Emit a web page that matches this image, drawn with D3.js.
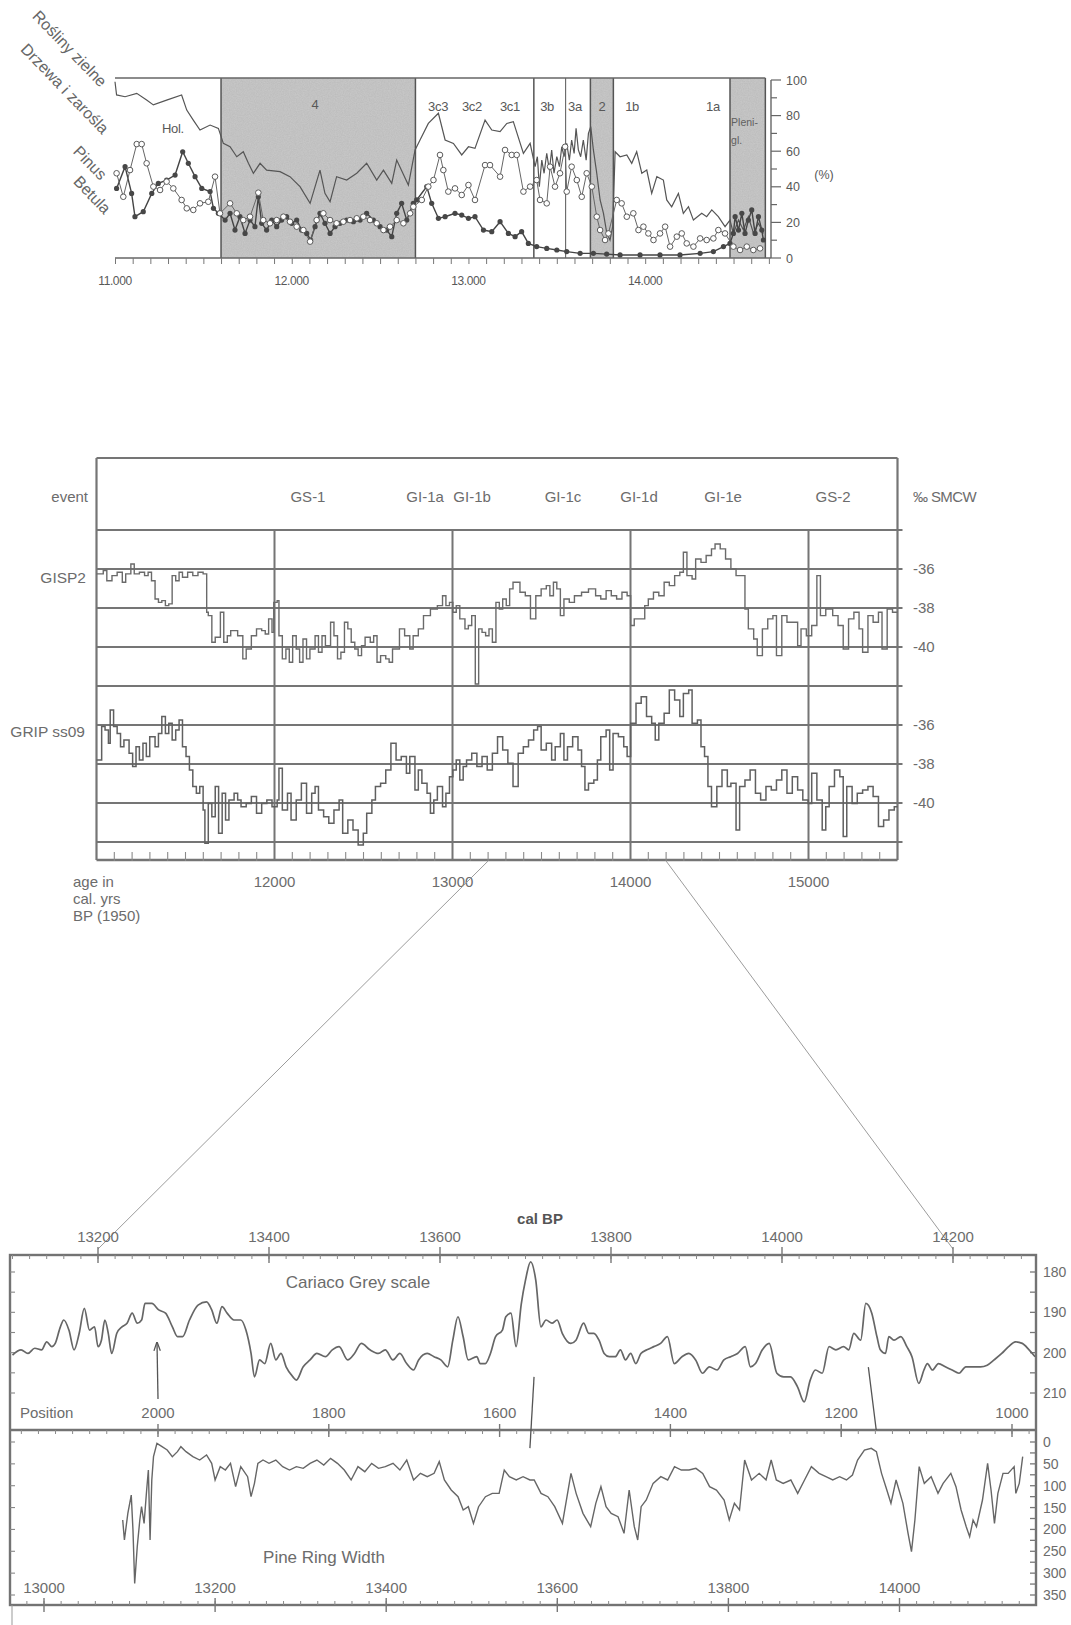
<!DOCTYPE html>
<html>
<head>
<meta charset="utf-8">
<script src="https://cdn.jsdelivr.net/npm/d3@7"></script>
<style>
  body { margin: 0; background: #fff; }
  svg { display: block; }
  text { font-family: "Liberation Sans", Arial, sans-serif; }
</style>
</head>
<body>
<svg id="chart" width="1071" height="1625"></svg>
<script>
// ===================== DATA =====================

// --- Pollen diagram (age, %) ---
const pollenZoneBounds = [11600, 12700, 13370, 13550, 13690, 13820, 14480, 14680];
const shadedZones = [[11600, 12700], [13690, 13820], [14480, 14680]];
const zoneLabels = [
  { t: "Hol.", at: 11328, v: 73 },
  { t: "4", at: 12132, v: 86 },
  { t: "3c3", at: 12828, v: 85 },
  { t: "3c2", at: 13020, v: 85 },
  { t: "3c1", at: 13235, v: 85 },
  { t: "3b", at: 13445, v: 85 },
  { t: "3a", at: 13603, v: 85 },
  { t: "2", at: 13756, v: 85 },
  { t: "1b", at: 13926, v: 85 },
  { t: "1a", at: 14384, v: 85 }
];
const pollenTicks = [0, 20, 40, 60, 80, 100];
const pollenAgeLabels = [11000, 12000, 13000, 14000];
const taxaNames = ["Rośliny zielne", "Drzewa i zarośla", "Pinus", "Betula"];

const treesShrubs = [[11000,99],[11009,91.6],[11057,90.6],[11123,92.5],[11179,88.7],[11217,86],[11292,88.7],[11377,91.6],[11406,83.1],[11443,77.5],[11481,71.9],[11538,74.7],[11585,72.8],[11613,64.4],[11651,62.5],[11689,56.9],[11726,59.7],[11755,53.2],[11783,47.6],[11821,53.2],[11858,49.4],[11934,48.5],[11990,45.7],[12047,40.1],[12104,30.7],[12160,49.4],[12188,36.3],[12217,31.6],[12254,45.7],[12311,43.8],[12368,47.6],[12424,53.2],[12481,43.8],[12519,49.4],[12566,41.9],[12594,55],[12660,41],[12698,60.7],[12726,66.3],[12773,75.6],[12830,81.3],[12868,66.3],[12915,64.4],[12962,57.9],[13000,62.5],[13037,61.6],[13094,77.5],[13132,71.9],[13179,71],[13217,75.6],[13254,76.6],[13311,58.8],[13349,64.4],[13377,51.3],[13390,56.9],[13401,40.1],[13415,55],[13428,47.6],[13443,58.8],[13458,49.4],[13471,60.7],[13484,47.6],[13500,56.9],[13515,51.3],[13528,62.5],[13541,56.9],[13556,64.4],[13571,55],[13584,66.3],[13598,58.8],[13609,72.8],[13622,60.7],[13635,56.9],[13650,66.3],[13666,55],[13679,70],[13692,73.8],[13707,60.7],[13726,47.6],[13745,32.6],[13764,25.1],[13783,13.8],[13801,10.1],[13816,17.6],[13830,59.7],[13858,56.9],[13896,57.9],[13924,53.2],[13952,59.7],[13981,47.6],[14009,49.4],[14037,36.3],[14066,45.7],[14103,43.8],[14122,32.6],[14150,28.8],[14188,36.3],[14216,25.1],[14245,28.8],[14273,21.3],[14320,25.1],[14348,23.2],[14377,27],[14414,23.2],[14452,17.6],[14480,21.3],[14499,13.8],[14528,21.3],[14556,15.7],[14584,23.2],[14613,13.8],[14641,19.5],[14669,13.8]];

const betula = [[11009,47.6],[11047,34.4],[11085,49.4],[11123,64],[11151,64],[11179,53.2],[11217,40.1],[11255,38.2],[11292,42.9],[11330,39.1],[11377,32.6],[11406,27.9],[11443,27],[11481,30.7],[11528,31.6],[11566,45.7],[11594,25.1],[11651,30.7],[11689,25.1],[11726,21.3],[11764,23.2],[11811,36.7],[11839,21.3],[11877,19.5],[11915,21.3],[11953,23.2],[11990,20.4],[12028,17.6],[12066,15.7],[12104,9.2],[12141,21.3],[12179,25.1],[12217,21.3],[12254,19.5],[12292,20.4],[12330,21.3],[12368,22.3],[12405,23.2],[12443,21.3],[12481,19.5],[12519,15.7],[12556,17.6],[12594,21.3],[12632,19.5],[12670,25.1],[12688,28.8],[12736,32.6],[12773,40.1],[12802,43.8],[12839,57.9],[12858,49.4],[12886,37.3],[12924,39.1],[12962,35.4],[13000,41],[13037,32.6],[13094,52.2],[13122,52.2],[13179,45.7],[13207,60.7],[13245,57.9],[13273,57.9],[13311,37.3],[13349,40.1],[13386,43.8],[13405,32.6],[13443,30.7],[13462,51.3],[13490,40.1],[13518,47.6],[13547,62.5],[13556,37.3],[13584,51.3],[13613,43.8],[13641,34.4],[13669,47.6],[13698,40.1],[13726,23.2],[13745,15.7],[13773,10.1],[13792,13.8],[13839,32.6],[13867,30.7],[13896,23.2],[13933,25.1],[13962,15.7],[13990,17.6],[14018,13.8],[14047,10.1],[14084,13.8],[14113,17.6],[14141,6.4],[14179,12],[14207,13.8],[14235,8.2],[14273,6.4],[14311,11],[14348,10.1],[14386,11],[14414,15.7],[14452,13.8],[14499,6.4],[14537,4.5],[14575,6.4],[14612,4.5],[14650,5.4]];

const pinus = [[11009,39.1],[11057,51.3],[11094,36.3],[11113,23.2],[11160,26],[11208,36.3],[11245,41.9],[11292,43.8],[11340,46.6],[11383,59.7],[11415,53.2],[11453,45.7],[11491,39.1],[11538,37.3],[11557,27.9],[11585,25.1],[11623,21.3],[11651,25.1],[11679,15.7],[11707,23.2],[11736,13.8],[11764,21.3],[11792,17.6],[11811,34.4],[11830,19.5],[11858,15.7],[11887,21.3],[11915,17.6],[11943,21.3],[11971,23.2],[12000,19.5],[12028,21.3],[12056,15.7],[12085,13.8],[12107,10.1],[12132,17.6],[12160,25.1],[12188,19.5],[12217,13.8],[12245,17.6],[12273,19.5],[12311,21.3],[12349,20.4],[12387,21.3],[12424,25.1],[12462,21.3],[12500,17.6],[12537,15.7],[12566,12],[12594,25.1],[12622,30.7],[12651,21.3],[12688,30.7],[12707,32.6],[12764,40.1],[12792,30.7],[12830,22.3],[12868,23.2],[12924,25.1],[12962,24.1],[13000,22.3],[13037,23.2],[13085,15.7],[13132,14.8],[13179,20.4],[13226,13.8],[13264,12],[13301,14.8],[13339,8.2],[13386,6.4],[13443,5.4],[13500,4.5],[13556,3.6],[13632,2.6],[13707,2.6],[13782,2.2],[13858,1.7],[13971,1.7],[14084,1.7],[14197,1.7],[14311,2.6],[14386,3.6],[14443,6.4],[14480,8.2],[14499,13.8],[14509,23.2],[14528,15.7],[14547,25.1],[14565,13.8],[14584,21.3],[14603,27],[14622,13.8],[14641,23.2],[14660,15.7],[14669,10.1]];

// --- Greenland ice cores (age, ‰ SMOW) ---
const iceEvents = [
  { t: "GS-1", at: 12188 }, { t: "GI-1a", at: 12846 }, { t: "GI-1b", at: 13110 },
  { t: "GI-1c", at: 13621 }, { t: "GI-1d", at: 14048 }, { t: "GI-1e", at: 14520 },
  { t: "GS-2", at: 15138 }
];
const iceAgeLabels = [12000, 13000, 14000, 15000];
const isoLabels = [-36, -38, -40];

const gisp2 = [[11000,-36.25],[11019,-36.25],[11038,-36.08],[11058,-36.6],[11087,-36.34],[11116,-36.17],[11145,-36.68],[11164,-36.25],[11193,-35.74],[11212,-36.25],[11241,-36.17],[11270,-36.34],[11290,-36.17],[11309,-36.6],[11329,-37.54],[11348,-37.71],[11367,-37.62],[11387,-37.88],[11406,-37.79],[11425,-36.34],[11445,-36.6],[11464,-36.17],[11483,-36.42],[11512,-36.17],[11541,-36.34],[11570,-36.17],[11599,-36.25],[11619,-38.22],[11628,-38.39],[11648,-39.76],[11667,-39.5],[11696,-38.22],[11715,-39.76],[11735,-39.42],[11754,-39.16],[11793,-39.42],[11822,-40.61],[11841,-40.1],[11870,-39.42],[11899,-39.07],[11928,-39.16],[11948,-39.33],[11967,-38.56],[11986,-39.25],[11996,-37.71],[12015,-37.62],[12025,-39.42],[12044,-40.61],[12064,-40.1],[12083,-40.78],[12102,-39.42],[12122,-40.1],[12141,-40.78],[12160,-39.59],[12180,-40.61],[12199,-40.1],[12228,-39.42],[12247,-40.27],[12267,-39.42],[12286,-39.93],[12315,-38.73],[12334,-39.42],[12354,-40.61],[12373,-40.27],[12393,-38.73],[12412,-39.07],[12431,-39.76],[12451,-40.1],[12470,-40.44],[12489,-39.93],[12509,-39.5],[12538,-39.76],[12557,-39.42],[12576,-40.78],[12596,-40.44],[12625,-40.61],[12644,-40.78],[12663,-40.1],[12702,-39.07],[12731,-39.42],[12760,-40.1],[12779,-39.42],[12808,-39.07],[12837,-38.39],[12876,-38.05],[12915,-37.88],[12944,-37.37],[12963,-37.88],[12983,-37.71],[13002,-38.22],[13021,-37.88],[13041,-38.56],[13070,-39.07],[13089,-38.9],[13108,-38.39],[13128,-41.9],[13147,-39.07],[13166,-39.25],[13186,-39.42],[13205,-39.07],[13224,-39.76],[13244,-37.71],[13263,-38.05],[13282,-37.54],[13302,-37.88],[13321,-37.02],[13340,-36.68],[13379,-37.19],[13409,-37.37],[13438,-38.56],[13468,-37.37],[13498,-37.02],[13527,-36.85],[13547,-37.37],[13567,-36.68],[13586,-37.02],[13606,-38.39],[13626,-37.54],[13656,-37.71],[13685,-37.37],[13725,-37.19],[13764,-37.02],[13804,-37.37],[13833,-37.54],[13863,-37.11],[13892,-37.37],[13922,-37.54],[13952,-37.19],[13981,-37.37],[14001,-38.9],[14021,-38.56],[14050,-38.56],[14080,-37.88],[14100,-37.54],[14129,-37.19],[14159,-37.37],[14189,-36.68],[14218,-36.85],[14248,-36.34],[14277,-36.17],[14297,-35.14],[14317,-36.34],[14346,-36.51],[14366,-35.49],[14396,-35.66],[14425,-35.31],[14455,-34.97],[14475,-34.72],[14504,-34.97],[14534,-35.49],[14564,-36],[14593,-36.34],[14623,-36.34],[14643,-38.05],[14662,-39.07],[14692,-39.59],[14712,-40.44],[14741,-39.07],[14771,-38.56],[14800,-38.39],[14820,-40.44],[14850,-38.39],[14879,-38.73],[14909,-38.73],[14939,-39.93],[14958,-39.07],[14988,-39.42],[15018,-38.9],[15047,-36.34],[15067,-38.39],[15097,-38.05],[15136,-38.39],[15166,-38.9],[15195,-40.1],[15225,-38.56],[15255,-38.22],[15284,-39.07],[15304,-40.27],[15334,-38.39],[15363,-38.73],[15393,-38.22],[15413,-40.1],[15442,-38.05],[15472,-38.22],[15500,-38.22]];

const gripSs09 = [[11000,-37.79],[11019,-37.79],[11029,-36.08],[11048,-36.26],[11067,-36.94],[11077,-35.23],[11096,-36.08],[11116,-36.43],[11135,-37.11],[11154,-36.77],[11183,-37.45],[11203,-38.13],[11222,-37.11],[11241,-37.79],[11261,-36.94],[11280,-37.62],[11299,-36.6],[11329,-37.11],[11348,-36.43],[11367,-35.57],[11387,-36.43],[11406,-35.91],[11425,-36.77],[11445,-36.26],[11464,-35.74],[11483,-37.11],[11503,-37.62],[11522,-38.31],[11541,-39.16],[11561,-39.5],[11580,-39.16],[11599,-40.36],[11609,-42.07],[11628,-40.02],[11648,-40.7],[11667,-39.16],[11686,-41.55],[11706,-39.5],[11725,-40.87],[11744,-39.84],[11773,-39.5],[11793,-39.84],[11812,-40.19],[11841,-40.02],[11870,-39.67],[11899,-40.53],[11928,-40.02],[11957,-39.84],[11986,-40.19],[12015,-39.84],[12025,-38.22],[12044,-40.36],[12073,-39.5],[12093,-40.87],[12122,-39.84],[12151,-38.99],[12180,-40.53],[12209,-39.5],[12228,-39.16],[12247,-40.36],[12276,-40.7],[12305,-41.04],[12334,-40.36],[12363,-39.84],[12383,-41.55],[12412,-40.87],[12441,-41.38],[12470,-42.15],[12499,-41.55],[12518,-40.53],[12547,-39.84],[12567,-39.16],[12596,-38.99],[12625,-38.31],[12654,-36.94],[12683,-37.79],[12712,-37.62],[12741,-38.48],[12760,-37.62],[12789,-39.33],[12808,-38.31],[12828,-38.99],[12857,-39.5],[12876,-40.53],[12895,-39.84],[12915,-39.16],[12944,-40.19],[12963,-39.5],[12983,-38.65],[13002,-38.31],[13021,-37.79],[13041,-38.82],[13060,-38.13],[13079,-37.79],[13108,-37.45],[13137,-38.13],[13166,-37.62],[13195,-38.31],[13224,-37.45],[13253,-36.6],[13282,-37.28],[13311,-37.96],[13340,-39.16],[13369,-37.45],[13398,-37.11],[13427,-36.77],[13456,-36.26],[13478,-36.08],[13498,-37.28],[13527,-36.94],[13557,-37.79],[13577,-37.11],[13606,-36.43],[13626,-37.79],[13646,-37.11],[13675,-36.6],[13705,-37.28],[13725,-38.13],[13744,-39.33],[13764,-38.99],[13794,-38.82],[13814,-37.79],[13833,-36.6],[13863,-36.26],[13883,-38.31],[13902,-36.43],[13932,-36.6],[13962,-37.11],[13981,-37.62],[14001,-35.91],[14031,-34.89],[14060,-34.55],[14090,-35.57],[14119,-35.91],[14139,-36.77],[14159,-35.91],[14189,-35.4],[14218,-34.21],[14248,-34.72],[14277,-35.57],[14297,-34.38],[14327,-34.21],[14346,-35.91],[14376,-35.74],[14396,-37.11],[14416,-37.62],[14435,-39.16],[14455,-40.19],[14485,-39.16],[14514,-38.31],[14544,-39.16],[14564,-38.99],[14593,-41.38],[14613,-39.16],[14643,-38.82],[14672,-38.31],[14702,-39.5],[14731,-39.84],[14761,-39.16],[14791,-39.33],[14820,-38.82],[14850,-38.31],[14879,-39.5],[14909,-38.65],[14939,-39.33],[14968,-39.84],[14998,-40.02],[15018,-38.48],[15047,-39.84],[15077,-41.38],[15097,-40.19],[15116,-39.16],[15146,-38.31],[15176,-38.65],[15195,-41.72],[15215,-39.16],[15245,-40.02],[15274,-39.5],[15304,-39.33],[15334,-39.16],[15363,-39.67],[15393,-41.21],[15422,-40.87],[15452,-40.36],[15482,-40.19],[15500,-40.19]];

// --- Cariaco grey scale (cal BP, grey value) ---
const cariacoGrey = [[13100,200.6],[13110,199.3],[13118,200.2],[13126,198.9],[13134,199.3],[13140,197.3],[13146,198.5],[13150,197.7],[13156,193.6],[13160,191.9],[13166,194.4],[13172,199.3],[13178,195.2],[13184,189],[13190,194.4],[13196,193.6],[13200,198.5],[13204,196.9],[13208,191.9],[13212,195.2],[13216,200.2],[13222,195.2],[13228,193.6],[13234,192.7],[13240,190.2],[13246,192.7],[13251,191.9],[13255,187.8],[13263,187.8],[13271,189.4],[13279,190.2],[13287,193.6],[13293,196],[13299,196],[13307,191.9],[13317,188.2],[13327,187.4],[13333,189.4],[13339,192.7],[13345,188.6],[13351,190.2],[13359,191.9],[13367,191.9],[13373,194.4],[13379,200.2],[13383,206],[13389,201.8],[13395,202.7],[13402,197.7],[13408,201.8],[13414,200.2],[13420,203.5],[13428,206],[13432,206.8],[13440,203.5],[13448,201.8],[13456,200.2],[13466,201],[13474,199.3],[13482,198.5],[13492,201.8],[13500,200.2],[13508,197.7],[13518,199.3],[13528,200.2],[13536,199.3],[13545,201.8],[13553,200.2],[13561,202.7],[13569,204.3],[13575,201.8],[13585,200.2],[13593,201],[13601,201.8],[13609,203.5],[13615,196.9],[13621,191.1],[13627,196],[13633,201.8],[13643,201],[13647,202.7],[13653,202.7],[13659,200.2],[13665,196],[13673,194.4],[13677,191.1],[13683,190.2],[13689,198.5],[13695,188],[13700,182],[13706,177.5],[13712,182],[13718,193.6],[13724,191.9],[13731,192.7],[13737,191.9],[13743,195.2],[13753,197.7],[13759,196.9],[13768,192.7],[13774,195.2],[13780,195.2],[13786,196.9],[13792,200.2],[13798,201],[13805,201],[13811,199.3],[13817,201.8],[13823,200.2],[13829,202.7],[13835,200.2],[13842,199.3],[13850,198.5],[13858,197.7],[13866,196],[13874,202.7],[13883,201],[13891,200.2],[13899,201.8],[13907,205.1],[13915,203.5],[13924,204.3],[13932,201.8],[13940,201],[13948,200.2],[13957,198.5],[13963,203.5],[13969,202.7],[13977,199.3],[13985,197.7],[13994,205.1],[14002,206],[14010,206],[14018,208.4],[14026,212.2],[14033,206.8],[14039,204.3],[14047,205.1],[14055,198.5],[14063,199.3],[14072,198.5],[14078,199.3],[14084,195.2],[14092,196.9],[14098,187.8],[14105,190.2],[14111,196],[14115,199.3],[14121,200.2],[14125,196],[14131,196.9],[14139,196],[14146,198.5],[14152,201],[14160,207.6],[14166,204.3],[14170,202.7],[14176,204.3],[14183,202.7],[14191,203.5],[14199,204.3],[14207,205.1],[14215,203.5],[14224,203.5],[14232,203.5],[14240,203.1],[14248,201.8],[14257,200.2],[14265,198.5],[14273,197.3],[14281,197.7],[14289,199.3],[14296,201]];

// --- Pine ring width (cal BP, width) ---
const pineRingWidth = [[13092,178.5],[13094,224.2],[13098,163.2],[13102,121.3],[13104,201.4],[13106,323.4],[13109,239.5],[13112,178.5],[13114,148],[13117,186.1],[13120,109.8],[13122,64.1],[13124,224.2],[13126,86.9],[13128,33.5],[13132,3],[13138,10.7],[13144,18.3],[13150,33.5],[13156,22.1],[13160,10.7],[13166,22.1],[13174,33.5],[13182,41.2],[13190,29.7],[13196,48.8],[13200,86.9],[13206,56.4],[13212,64.1],[13218,48.8],[13224,102.2],[13230,56.4],[13238,79.3],[13242,125.1],[13246,94.6],[13250,48.8],[13256,41.2],[13263,48.8],[13271,41.2],[13279,56.4],[13287,64.1],[13295,56.4],[13303,60.2],[13311,48.8],[13319,41.2],[13327,52.6],[13335,37.4],[13343,48.8],[13351,64.1],[13359,86.9],[13367,56.4],[13375,67.9],[13383,48.8],[13391,60.2],[13399,56.4],[13408,48.8],[13416,64.1],[13424,41.2],[13432,86.9],[13440,71.7],[13448,79.3],[13456,71.7],[13462,45],[13468,86.9],[13476,109.8],[13484,125.1],[13490,155.6],[13496,148],[13502,186.1],[13508,148],[13516,125.1],[13524,117.5],[13532,117.5],[13538,64.1],[13544,79.3],[13552,86.9],[13560,79.3],[13568,86.9],[13573,86.9],[13581,117.5],[13589,125.1],[13597,148],[13606,186.1],[13612,117.5],[13616,71.7],[13622,117.5],[13630,163.2],[13639,193.7],[13645,140.3],[13651,102.2],[13657,148],[13663,163.2],[13671,170.8],[13678,209],[13684,109.8],[13690,193.7],[13694,224.2],[13698,148],[13704,132.7],[13712,94.6],[13721,79.3],[13729,86.9],[13737,56.4],[13745,64.1],[13754,64.1],[13762,60.2],[13770,71.7],[13778,102.2],[13786,109.8],[13795,132.7],[13801,178.5],[13807,140.3],[13813,155.6],[13819,41.2],[13827,86.9],[13836,71.7],[13844,86.9],[13850,41.2],[13856,86.9],[13864,94.6],[13873,86.9],[13881,117.5],[13889,86.9],[13897,56.4],[13906,71.7],[13914,79.3],[13922,86.9],[13930,79.3],[13938,86.9],[13945,75.5],[13951,41.2],[13959,18.3],[13967,14.5],[13973,22.1],[13979,71.7],[13984,102.2],[13990,140.3],[13996,86.9],[14004,140.3],[14010,209],[14014,250.9],[14018,178.5],[14023,56.4],[14029,94.6],[14037,79.3],[14045,117.5],[14051,94.6],[14060,71.7],[14066,102.2],[14072,155.6],[14078,193.7],[14082,216.6],[14086,178.5],[14090,193.7],[14097,132.7],[14103,48.8],[14107,109.8],[14111,186.1],[14115,117.5],[14121,71.7],[14127,71.7],[14134,56.4],[14136,117.5],[14140,94.6],[14144,33.5]];

const calBPLabels = [13200, 13400, 13600, 13800, 14000, 14200];
const positionLabels = [2000, 1800, 1600, 1400, 1200, 1000];
const ringAgeLabels = [13000, 13200, 13400, 13600, 13800, 14000];
const greyLabels = [180, 190, 200, 210];
const ringLabels = [0, 50, 100, 150, 200, 250, 300, 350];

// Tie points linking the grey-scale record to the ring-width series
const tieArrow = { pos: 2000, greyFrom: 211.5, greyTo: 197.5 };
const tieMid = { calBP: 13710, grey: 206, ringAge: 13568, ring: 14 };
const tieRight = { calBP: 14101, grey: 203.6, pos: 1159 };

// ===================== DRAWING =====================
const svg = d3.select("#chart");
const ink = "#585858";
const soft = "#6c6c6c";

const defs = svg.append("defs");
const grain = defs.append("filter").attr("id", "grain").attr("x", 0).attr("y", 0).attr("width", 1).attr("height", 1);
grain.append("feTurbulence").attr("type", "fractalNoise").attr("baseFrequency", 0.85).attr("numOctaves", 2).attr("seed", 7).attr("result", "n");
grain.append("feColorMatrix").attr("in", "n").attr("type", "matrix")
  .attr("values", "0 0 0 0 0.42  0 0 0 0 0.42  0 0 0 0 0.42  0 0 0 0.55 -0.05").attr("result", "g");
grain.append("feComposite").attr("in", "g").attr("in2", "SourceGraphic").attr("operator", "in");
defs.append("marker").attr("id", "arrow").attr("viewBox", "0 0 10 10").attr("refX", 9).attr("refY", 5)
  .attr("markerWidth", 7).attr("markerHeight", 7).attr("orient", "auto-start-reverse")
  .append("path").attr("d", "M0,1.5 L10,5 L0,8.5").attr("fill", "none").attr("stroke", "#555").attr("stroke-width", 1.4);

function line(g, x1, y1, x2, y2, stroke, w) {
  return g.append("line").attr("x1", x1).attr("y1", y1).attr("x2", x2).attr("y2", y2)
    .attr("stroke", stroke).attr("stroke-width", w);
}
function label(g, x, y, t, size, anchor, fill) {
  return g.append("text").attr("x", x).attr("y", y).attr("font-size", size)
    .attr("text-anchor", anchor || "middle").attr("fill", fill || ink).text(t);
}

// ---------- Pollen diagram ----------
{
  const g = svg.append("g");
  const x = d3.scaleLinear().domain([11000, 14712]).range([115, 771]);
  const y = d3.scaleLinear().domain([0, 100]).range([258, 80]);
  const topY = y(100) - 2;

  g.selectAll("rect.zone").data(shadedZones).join("rect").attr("class", "zone")
    .attr("x", d => x(d[0])).attr("width", d => x(d[1]) - x(d[0]))
    .attr("y", topY).attr("height", y(0) - topY).attr("fill", "#c8c8c8");
  g.selectAll("rect.grain").data(shadedZones).join("rect").attr("class", "grain")
    .attr("x", d => x(d[0])).attr("width", d => x(d[1]) - x(d[0]))
    .attr("y", topY).attr("height", y(0) - topY).attr("fill", "#000").attr("filter", "url(#grain)");

  pollenZoneBounds.forEach(b => line(g, x(b), topY, x(b), y(0), "#555", b === 13550 ? 1 : 1.5));
  line(g, x(11000), topY, x(14680), topY, "#666", 1.6);
  line(g, x(11000), y(0), x(14712), y(0), "#666", 1.6);

  // age axis
  const ax = g.append("g").attr("transform", `translate(0,${y(0)})`)
    .call(d3.axisBottom(x).tickValues(d3.range(11000, 14701, 100)).tickSize(6).tickFormat(""));
  ax.select(".domain").remove();
  ax.selectAll(".tick line").attr("stroke", "#777").attr("stroke-width", 1);
  pollenAgeLabels.forEach(a => label(g, x(a), 285, `${a / 1000}.000`, 12, "middle", ink)
    .attr("letter-spacing", -0.4));

  // percent axis
  line(g, x(14712), y(0), x(14712), y(100), "#666", 1.4);
  d3.range(0, 101, 10).forEach(v => line(g, x(14712), y(v), x(14712) + (v % 20 === 0 ? 10 : 6), y(v), "#666", 1.2));
  pollenTicks.forEach(v => label(g, x(14712) + 15, y(v) + 4.5, v, 12.5, "start"));
  label(g, 824, 179, "(%)", 12.5);

  // series
  const ln = d3.line().x(d => x(d[0])).y(d => y(d[1]));
  g.append("path").datum(treesShrubs).attr("d", ln).attr("fill", "none").attr("stroke", "#555").attr("stroke-width", 1.2);
  g.append("path").datum(pinus).attr("d", ln).attr("fill", "none").attr("stroke", "#444").attr("stroke-width", 1.4);
  g.append("path").datum(betula).attr("d", ln).attr("fill", "none").attr("stroke", "#666").attr("stroke-width", 1);
  g.selectAll("circle.pin").data(pinus).join("circle").attr("class", "pin")
    .attr("cx", d => x(d[0])).attr("cy", d => y(d[1])).attr("r", 2.6).attr("fill", "#474747");
  g.selectAll("circle.bet").data(betula).join("circle").attr("class", "bet")
    .attr("cx", d => x(d[0])).attr("cy", d => y(d[1])).attr("r", 2.8)
    .attr("fill", "#fff").attr("stroke", "#5a5a5a").attr("stroke-width", 1);

  // zone labels
  zoneLabels.forEach(z => label(g, x(z.at), y(z.v) + 4.5, z.t, 13).attr("letter-spacing", -0.3));
  label(g, x(14486), y(74), "Pleni-", 10.5, "start", "#606060");
  label(g, x(14486), y(64), "gl.", 10.5, "start", "#606060");

  // taxon names, rotated
  const ends = [[100, 88], [102, 135], [100, 181], [104, 215]];
  taxaNames.forEach((t, i) => g.append("text")
    .attr("transform", `translate(${ends[i][0]},${ends[i][1]}) rotate(46)`)
    .attr("text-anchor", "end").attr("font-size", 16).attr("fill", "#666").text(t));
}

// ---------- Ice-core isotope records ----------
const xM = d3.scaleLinear().domain([11000, 15500]).range([96.5, 897.5]);
{
  const g = svg.append("g");
  const yG = d3.scaleLinear().domain([-34, -42]).range([530, 686]);
  const yR = d3.scaleLinear().domain([-34, -42]).range([686, 842]);
  const frame = "#757575";
  const axisY = 860, boxTop = 458;

  line(g, xM(11000), boxTop, xM(15500), boxTop, frame, 2);
  [-34, -36, -38, -40].forEach(v => line(g, xM(11000), yG(v), xM(15500) + 5, yG(v), frame, 2));
  [-34, -36, -38, -40, -42].forEach(v => line(g, xM(11000), yR(v), xM(15500) + 5, yR(v), frame, 2));
  iceAgeLabels.forEach(a => line(g, xM(a), yG(-34), xM(a), axisY, frame, 2));
  line(g, xM(11000), boxTop, xM(11000), axisY, frame, 2.2);
  line(g, xM(15500), boxTop, xM(15500), axisY, frame, 2.2);
  line(g, xM(11000), axisY, xM(15500), axisY, frame, 2.6);
  d3.range(11100, 15500, 100).filter(a => a % 1000 !== 0)
    .forEach(a => line(g, xM(a), axisY - 8, xM(a), axisY + 1, "#8a8a8a", 1.1));

  const step = (yy) => d3.line().curve(d3.curveStepAfter).x(d => xM(d[0])).y(d => yy(d[1]));
  g.append("path").datum(gisp2).attr("d", step(yG)).attr("fill", "none").attr("stroke", "#6a6a6a").attr("stroke-width", 1.4);
  g.append("path").datum(gripSs09).attr("d", step(yR)).attr("fill", "none").attr("stroke", "#606060").attr("stroke-width", 1.5);

  label(g, 88, 502, "event", 15, "end", soft);
  iceEvents.forEach(e => label(g, xM(e.at), 502, e.t, 15, "middle", soft));
  label(g, 913, 502, "‰ SMCW", 15, "start", soft).attr("letter-spacing", -0.6);
  label(g, 86, 583, "GISP2", 15.5, "end", soft);
  label(g, 85, 737, "GRIP ss09", 15.5, "end", soft);
  isoLabels.forEach(v => {
    label(g, 913, yG(v) + 5, v, 15, "start", soft);
    label(g, 913, yR(v) + 5, v, 15, "start", soft);
  });
  iceAgeLabels.forEach(a => label(g, xM(a), 887, a, 15, "middle", soft));
  ["age in", "cal. yrs", "BP (1950)"].forEach((t, i) => label(g, 73, 887 + i * 17, t, 15, "start", soft));
}

// ---------- Cariaco grey scale vs. pine ring width ----------
{
  const g = svg.append("g");
  const L = 10, R = 1036, T = 1255, M = 1430, B = 1605;
  const xT = d3.scaleLinear().domain([13200, 14200]).range([98, 953]);
  const xP = d3.scaleLinear().domain([2000, 1000]).range([158, 1012]);
  const xB = d3.scaleLinear().domain([13000, 14000]).range([44, 899.5]);
  const yC = d3.scaleLinear().domain([180, 210]).range([1272, 1393]);
  const yW = d3.scaleLinear().domain([0, 350]).range([1442, 1595]);
  const frame = "#737373";

  // zoom connectors from the ice-core axis
  line(g, xM(13200), 861, xT(13200), 1249, "#9c9c9c", 1);
  line(g, xM(14200), 861, xT(14200), 1249, "#9c9c9c", 1);

  g.append("rect").attr("x", L).attr("y", T).attr("width", R - L).attr("height", B - T)
    .attr("fill", "none").attr("stroke", frame).attr("stroke-width", 2.4);
  line(g, L, M, R, M, frame, 2.4);
  line(g, L + 2, B, L + 2, 1625, "#999", 1);

  // top cal BP axis
  d3.range(13100, 14290, 20).forEach(a => line(g, xT(a), T, xT(a), T + 4, "#8a8a8a", 1));
  calBPLabels.forEach(a => {
    line(g, xT(a), T - 8, xT(a), T + 8, "#777", 1.4);
    label(g, xT(a), 1242, a, 15, "middle", soft);
  });
  label(g, 540, 1224, "cal BP", 15, "middle", "#555").attr("font-weight", "bold");

  // position axis on the divider
  d3.range(2160, 979, -20).forEach(p => line(g, xP(p), M, xP(p), M + 4, "#8a8a8a", 1));
  positionLabels.forEach(p => {
    line(g, xP(p), M - 6, xP(p), M + 7, "#777", 1.4);
    label(g, xP(p), 1418, p, 15, "middle", soft);
  });
  label(g, 20, 1418, "Position", 15, "start", soft);

  // bottom ring-age axis
  d3.range(12980, 14150, 20).forEach(a => line(g, xB(a), B - 4, xB(a), B, "#8a8a8a", 1));
  ringAgeLabels.forEach(a => {
    line(g, xB(a), B - 7, xB(a), B + 7, "#777", 1.4);
    label(g, xB(a), 1593, a, 15, "middle", soft);
  });

  // right / left value axes
  d3.range(180, 211, 5).forEach(v => {
    line(g, R - 6, yC(v), R, yC(v), "#777", 1.3);
    line(g, L, yC(v), L + 5, yC(v), "#888", 1.1);
  });
  greyLabels.forEach(v => label(g, 1043, yC(v) + 5, v, 14, "start", soft));
  d3.range(0, 351, 25).forEach(v => line(g, R - 6, yW(v), R, yW(v), "#777", 1.3));
  d3.range(0, 351, 50).forEach(v => line(g, L, yW(v), L + 5, yW(v), "#888", 1.1));
  ringLabels.forEach(v => label(g, 1043, yW(v) + 5, v, 14, "start", soft));

  // series
  g.append("path").datum(cariacoGrey)
    .attr("d", d3.line().curve(d3.curveMonotoneX).x(d => xT(d[0])).y(d => yC(d[1])))
    .attr("fill", "none").attr("stroke", "#666").attr("stroke-width", 1.7);
  g.append("path").datum(pineRingWidth)
    .attr("d", d3.line().x(d => xB(d[0])).y(d => yW(d[1])))
    .attr("fill", "none").attr("stroke", "#666").attr("stroke-width", 1.4);

  label(g, 358, 1288, "Cariaco Grey scale", 17, "middle", soft);
  label(g, 324, 1563, "Pine Ring Width", 17, "middle", soft);

  // tie lines
  line(g, xP(tieArrow.pos), yC(tieArrow.greyFrom), xP(tieArrow.pos) - 1, yC(tieArrow.greyTo), "#555", 1.3)
    .attr("marker-end", "url(#arrow)");
  line(g, xT(tieMid.calBP), yC(tieMid.grey), xB(tieMid.ringAge), yW(tieMid.ring), "#555", 1.3);
  line(g, xT(tieRight.calBP), yC(tieRight.grey), xP(tieRight.pos), M, "#555", 1.3);
}
</script>
</body>
</html>
